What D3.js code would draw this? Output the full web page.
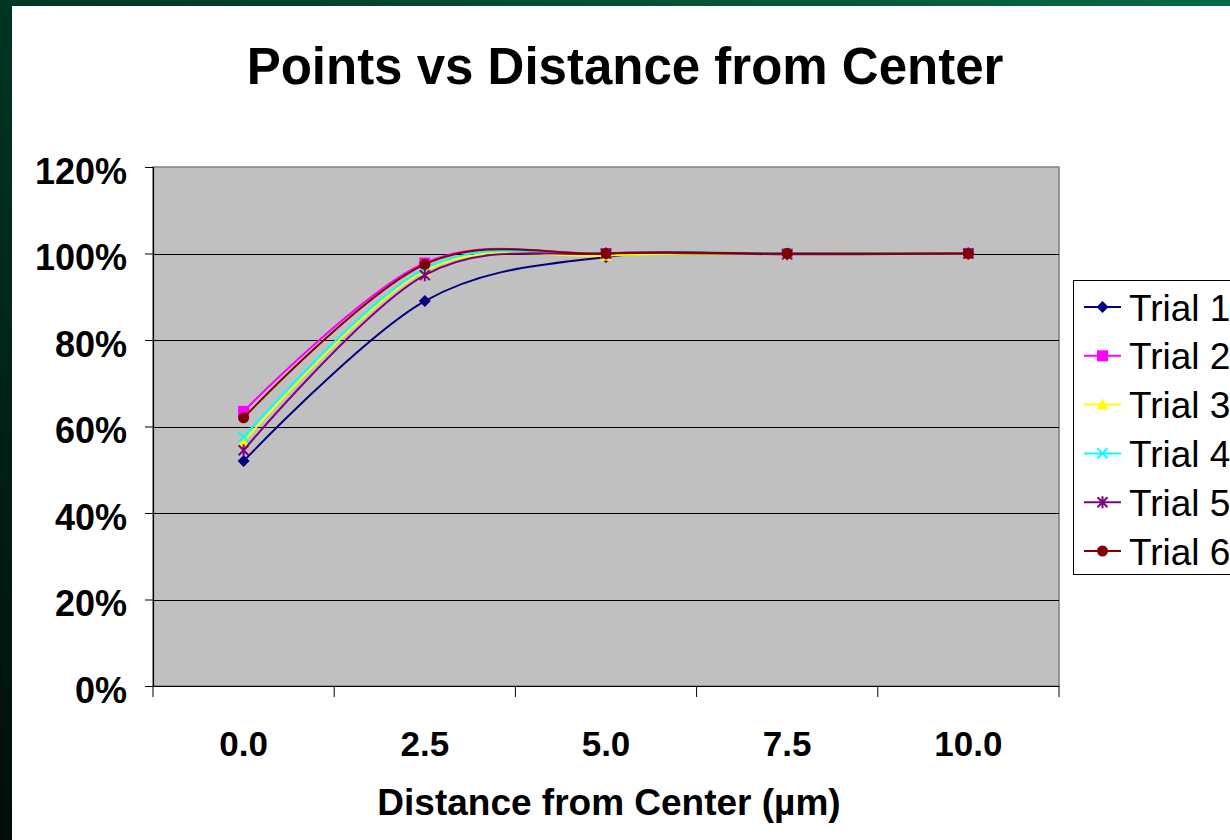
<!DOCTYPE html>
<html>
<head>
<meta charset="utf-8">
<script src="https://d3js.org/d3.v7.min.js"></script>
<style>
    body { margin: 0; background: #ffffff; overflow: hidden; }
    text { font-family: "Liberation Sans", Arial, sans-serif; }
</style>
</head>
<body>
<div id="chart"></div>
<script>

// data
let categories = ["0.0", "2.5", "5.0", "7.5", "10.0"];
let seriesNames = ["Trial 1", "Trial 2", "Trial 3", "Trial 4", "Trial 5", "Trial 6"];
let trial1 = [0.520, 0.890, 0.992, 1.000, 1.000];
let trial2 = [0.635, 0.978, 1.000, 1.000, 1.000];
let trial3 = [0.565, 0.960, 0.995, 1.000, 1.000];
let trial4 = [0.575, 0.965, 1.000, 1.000, 1.000];
let trial5 = [0.545, 0.950, 1.000, 0.998, 1.000];
let trial6 = [0.620, 0.975, 1.000, 1.000, 1.000];
let yTicks = [0, 0.2, 0.4, 0.6, 0.8, 1.0, 1.2];

let allSeries = [trial1, trial2, trial3, trial4, trial5, trial6];
let colors = ["#000080", "#ff00ff", "#ffff00", "#00ffff", "#800080", "#800000"];
let markers = ["diamond", "square", "triangle", "x", "star", "circle"];

let W = 1230, H = 840;
let plot = {left: 153, top: 167, right: 1059, bottom: 686};

let svg = d3.select("#chart").append("svg")
    .attr("width", W)
    .attr("height", H);

// slide background (green frame)
let grad = svg.append("defs").append("linearGradient")
    .attr("id", "bg")
    .attr("x1", "100%").attr("y1", "0%")
    .attr("x2", "0%").attr("y2", "100%");
grad.append("stop").attr("offset", "0%").attr("stop-color", "#006a4a");
grad.append("stop").attr("offset", "45%").attr("stop-color", "#003a28");
grad.append("stop").attr("offset", "100%").attr("stop-color", "#000d08");

svg.append("rect").attr("width", W).attr("height", H).attr("fill", "url(#bg)");
svg.append("rect").attr("x", 12).attr("y", 6).attr("width", W - 12).attr("height", H - 6).attr("fill", "#ffffff");

// scales
let x = d3.scaleBand()
    .domain(categories)
    .range([plot.left, plot.right]);

let y = d3.scaleLinear()
    .domain([0, 1.2])
    .range([plot.bottom, plot.top]);

// plot area
svg.append("rect")
    .attr("x", plot.left).attr("y", plot.top)
    .attr("width", plot.right - plot.left).attr("height", plot.bottom - plot.top)
    .attr("fill", "#c0c0c0")
    .attr("stroke", "#808080")
    .attr("stroke-width", 1.5);

// gridlines
svg.append("g")
    .selectAll("line")
    .data(yTicks.filter(d => d > 0 && d < 1.2))
    .join("line")
    .attr("x1", plot.left).attr("x2", plot.right)
    .attr("y1", d => Math.round(y(d)) + 0.5).attr("y2", d => Math.round(y(d)) + 0.5)
    .attr("stroke", "#000000")
    .attr("stroke-width", 1.2);

// y axis
let yAxis = svg.append("g")
    .attr("transform", "translate(" + plot.left + ",0)")
    .call(d3.axisLeft(y).tickValues(yTicks).tickFormat(d3.format(".0%")).tickSize(8).tickPadding(18));
yAxis.select(".domain").attr("stroke", "#000").attr("stroke-width", 1.2);
yAxis.selectAll(".tick line").attr("stroke", "#000");
yAxis.selectAll("text")
    .attr("font-size", 36)
    .attr("font-weight", "bold")
    .attr("fill", "#000")
    .attr("dy", "0.45em")
    .style("font-family", "'Liberation Sans', Arial, sans-serif");

// x axis: ticks between categories
let xAxisG = svg.append("g");
xAxisG.append("line")
    .attr("x1", plot.left).attr("x2", plot.right)
    .attr("y1", plot.bottom + 0.5).attr("y2", plot.bottom + 0.5)
    .attr("stroke", "#000").attr("stroke-width", 1.2);
let bounds = categories.map(d => x(d)).concat([x(categories[categories.length - 1]) + x.bandwidth()]);
xAxisG.selectAll(".xtick")
    .data(bounds)
    .join("line")
    .attr("class", "xtick")
    .attr("x1", d => d).attr("x2", d => d)
    .attr("y1", plot.bottom).attr("y2", plot.bottom + 11)
    .attr("stroke", "#000");
xAxisG.selectAll(".xlabel")
    .data(categories)
    .join("text")
    .attr("class", "xlabel")
    .attr("x", d => x(d) + x.bandwidth() / 2)
    .attr("y", 756)
    .attr("text-anchor", "middle")
    .attr("font-size", 35)
    .attr("font-weight", "bold")
    .text(d => d);

// titles
svg.append("text")
    .attr("x", 625).attr("y", 84)
    .attr("text-anchor", "middle")
    .attr("font-size", 51)
    .attr("font-weight", "bold")
    .text("Points vs Distance from Center");

svg.append("text")
    .attr("x", 609).attr("y", 815)
    .attr("text-anchor", "middle")
    .attr("font-size", 37)
    .attr("font-weight", "bold")
    .text("Distance from Center (µm)");

// marker drawing
function drawMarker(g, type, color) {
    if (type === "diamond") {
        g.append("path").attr("d", "M0,-6L6,0L0,6L-6,0Z").attr("fill", color);
    } else if (type === "square") {
        g.append("rect").attr("x", -5.5).attr("y", -5.5).attr("width", 11).attr("height", 11).attr("fill", color);
    } else if (type === "triangle") {
        g.append("path").attr("d", "M0,-6L6,5L-6,5Z").attr("fill", color);
    } else if (type === "x") {
        g.append("path").attr("d", "M-5,-5L5,5M-5,5L5,-5").attr("stroke", color).attr("stroke-width", 2);
    } else if (type === "star") {
        g.append("path").attr("d", "M-5,-5L5,5M-5,5L5,-5M0,-6L0,6").attr("stroke", color).attr("stroke-width", 2);
    } else if (type === "circle") {
        g.append("circle").attr("r", 5.5).attr("fill", color);
    }
}

// smoothed lines (Excel style)
let line = d3.line()
    .x((d, i) => x(categories[i]) + x.bandwidth() / 2)
    .y(d => y(d))
    .curve(d3.curveCardinal.tension(0));

allSeries.forEach(function(values, s) {
    let g = svg.append("g");
    g.append("path")
        .datum(values)
        .attr("d", line)
        .attr("fill", "none")
        .attr("stroke", colors[s])
        .attr("stroke-width", 2);
    values.forEach(function(v, i) {
        let m = g.append("g")
            .attr("transform", "translate(" + (x(categories[i]) + x.bandwidth() / 2) + "," + y(v) + ")");
        drawMarker(m, markers[s], colors[s]);
    });
});

// legend
let legend = svg.append("g");
legend.append("rect")
    .attr("x", 1073.5).attr("y", 280.5)
    .attr("width", 200).attr("height", 294)
    .attr("fill", "#ffffff")
    .attr("stroke", "#000")
    .attr("stroke-width", 1);

seriesNames.forEach(function(name, s) {
    let ly = 307 + s * 48.8;
    legend.append("line")
        .attr("x1", 1084).attr("x2", 1121)
        .attr("y1", ly).attr("y2", ly)
        .attr("stroke", colors[s]).attr("stroke-width", 2);
    let m = legend.append("g").attr("transform", "translate(1102.5," + ly + ")");
    drawMarker(m, markers[s], colors[s]);
    legend.append("text")
        .attr("x", 1129).attr("y", ly + 13.5)
        .attr("font-size", 37)
        .text(name);
});

</script>
</body>
</html>
